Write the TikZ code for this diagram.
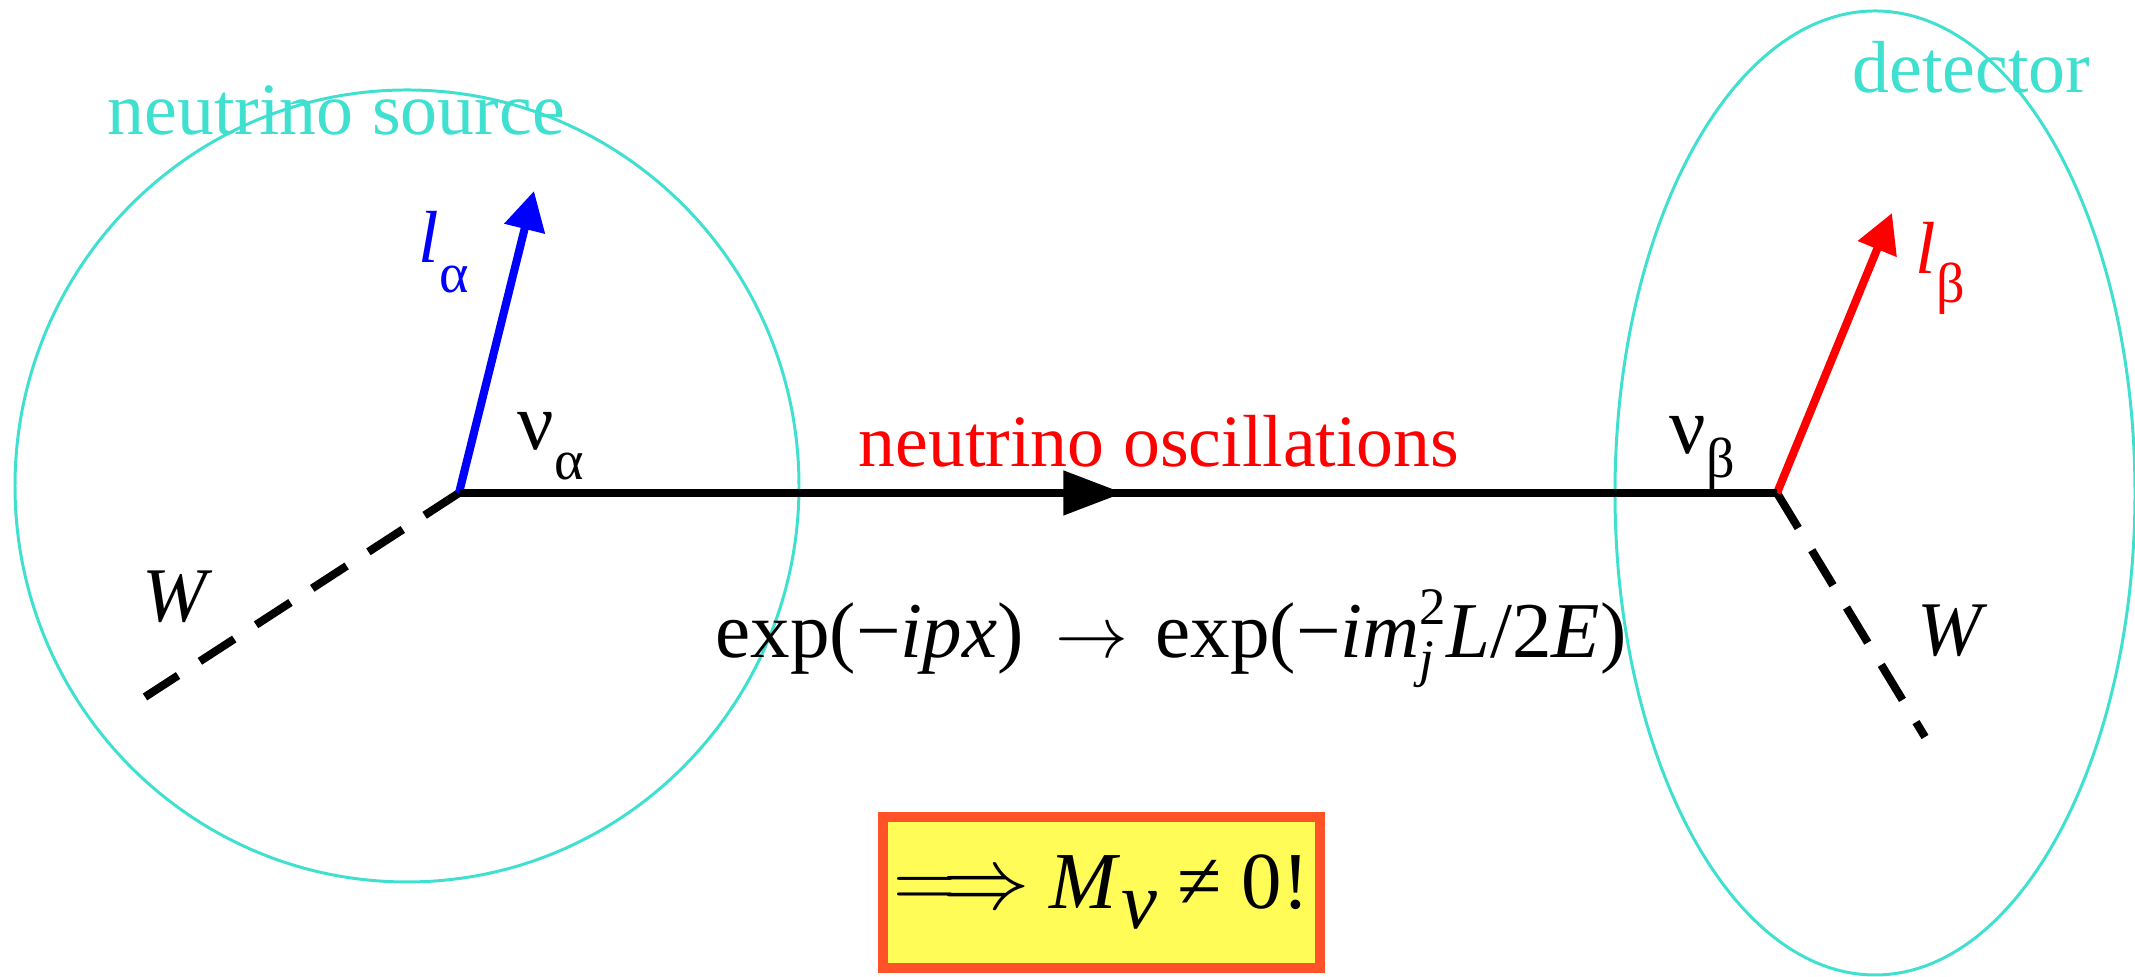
\documentclass[tikz,border=0pt]{standalone}
\usepackage{fontspec}
\setmainfont{Liberation Serif}
\usetikzlibrary{arrows.meta,decorations.markings,positioning}
\definecolor{turq}{RGB}{64,224,208}
\definecolor{boxred}{RGB}{255,82,40}
\definecolor{boxyel}{RGB}{255,252,88}
\newcommand{\fs}[1]{\fontsize{#1}{#1}\selectfont}

\begin{document}
\begin{tikzpicture}[>=Triangle,
  region/.style={draw=turq,line width=0.85pt},
  fermion/.style={line width=2.3pt},
  wline/.style={line width=2.3pt,dash pattern=on 0.41cm off 0.26cm},
  lepton/.style={line width=2.3pt,-{Triangle[length=0.39cm,width=0.4cm]}},
  lbl/.style={anchor=base west,inner sep=0pt}]
\useasboundingbox (0,0) rectangle (21.35,9.77);
% source and detector regions
\draw[region] (4.07,4.91) ellipse [x radius=3.92,y radius=3.96];
\draw[region] (18.75,4.84) ellipse [x radius=2.60,y radius=4.82];
\node[lbl,turq,font=\fs{21}] (tsrc) at (1.07,8.42) {neutrino source};
\node[lbl,turq,font=\fs{21}] (tdet) at (18.52,8.84) {detector};
% vertices and free ends
\coordinate (vs) at (4.59,4.84);
\coordinate (vd) at (17.77,4.84);
\coordinate (la) at (5.34,7.86);
\coordinate (lb) at (18.92,7.64);
\coordinate (ws) at (1.45,2.80);
\coordinate (wd) at (19.25,2.40);
\draw[wline] (vs) -- (ws);
\draw[wline] (vd) -- (wd);
\draw[lepton,blue] (vs) -- (la);
\draw[lepton,red] (vd) -- (lb);
\draw[fermion,postaction={decorate},decoration={markings,
  mark=at position 0.504 with {\arrow{Triangle[length=0.6cm,width=0.43cm]}}}]
  (vs) -- (vd);
% labels
\node[lbl,font=\fs{23}] (nua) at (5.17,5.27) {ν\raisebox{-0.3cm}{\fs{16}α}};
\node[lbl,font=\fs{23}] (nub) at (16.69,5.23) {ν\raisebox{-0.24cm}{\fs{16}β}};
\node[lbl,blue,font=\fs{21}] (tla) at (4.18,7.14) {\textit{l}\raisebox{-0.3cm}{\fs{16}α}};
\node[lbl,red,font=\fs{21}] (tlb) at (19.15,7.03) {\textit{l}\raisebox{-0.29cm}{\fs{16}β}};
\node[lbl,font=\fs{22}\itshape] (twa) at (1.42,3.55) {W};
\node[lbl,font=\fs{22}\itshape] (twb) at (19.17,3.21) {W};
\node[lbl,red,font=\fs{21}] (tosc) at (8.58,5.10) {neutrino oscillations};
\node[anchor=base,inner sep=0pt,font=\fs{22.5}] (tphase) at (11.71,3.19)
  {exp(−\textit{ipx})\hspace{0.4em}{\fs{22}$\rightarrow$}\hspace{0.35em}exp(−\textit{im}\rlap{\raisebox{-0.23em}{\fs{15}\textit{j}}}\raisebox{0.42em}{\fs{15}2}\textit{L}/2\textit{E})};
\node[draw=boxred,fill=boxyel,line width=0.1cm,minimum width=4.37cm,
  minimum height=1.51cm,inner sep=0pt,font=\fs{23}] (res) at (11.015,0.845)
  {$\Longrightarrow$ \textit{M}\raisebox{-0.2cm}{\textit{ν}} ≠ 0!};
\end{tikzpicture}
\end{document}
